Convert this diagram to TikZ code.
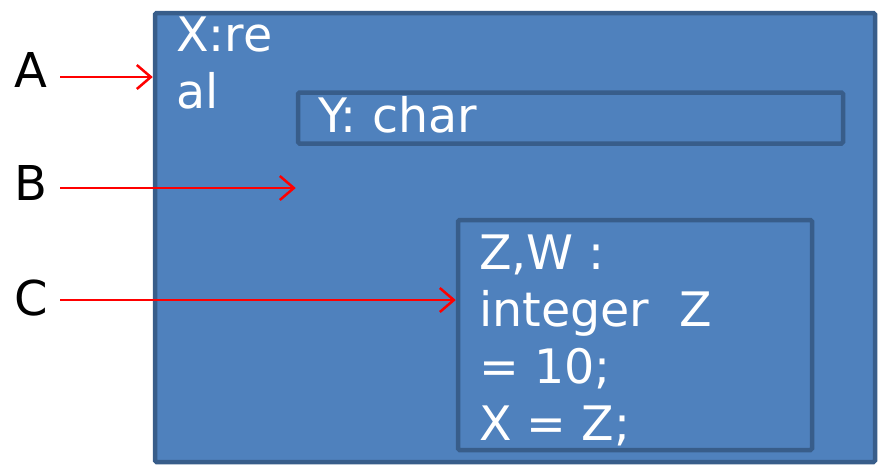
\documentclass[tikz,border=0pt]{standalone}
\usepackage{fontspec}
\setmainfont{DejaVu Sans}
\usetikzlibrary{arrows.meta}
\definecolor{boxfill}{HTML}{4F81BD}
\definecolor{boxline}{HTML}{385D8A}
\begin{document}
\begin{tikzpicture}[x=1pt,y=-1pt,
  scopebox/.style={draw=boxline, fill=boxfill, line width=4.5pt, rounded corners=1.5pt, minimum width=#1, inner sep=0pt},
  wtext/.style={text=white, font=\fontsize{47.5}{57}\selectfont, anchor=base west, inner sep=0pt, align=left},
  lbl/.style={text=black, font=\fontsize{48}{57}\selectfont, inner sep=0pt},
  arr/.style={draw=red, line width=2.5pt, -{Straight Barb[length=14pt,width=24pt,line width=2.5pt]}}]
\fill[white] (0,0) rectangle (885,469);
\useasboundingbox (0,0) rectangle (885,469);
\node[scopebox=720pt, minimum height=449pt] (outer) at (515,237.5) {};
\node[scopebox=545pt, minimum height=51pt] (ybox) at (570.5,118) {};
\node[scopebox=354pt, minimum height=230pt] (zbox) at (635,335) {};
\node[wtext] (xt) at (176,108) {X:re\\al};
\node[wtext] (yt) at (318,132) {Y: char};
\node[wtext] (zt) at (479,440) {Z,W :\\integer~ Z\\= 10;\\X = Z;};
\node[lbl] (A) at (31,70) {A};
\node[lbl] (B) at (31,183) {B};
\node[lbl] (C) at (31,298) {C};
\coordinate (sA) at (60,77);
\coordinate (sB) at (60,188);
\coordinate (sC) at (60,300);
\draw[arr] (sA) -- (outer.west |- sA);
\draw[arr] (sB) -- (ybox.west |- sB);
\draw[arr] (sC) -- (zbox.west |- sC);
\end{tikzpicture}
\end{document}
